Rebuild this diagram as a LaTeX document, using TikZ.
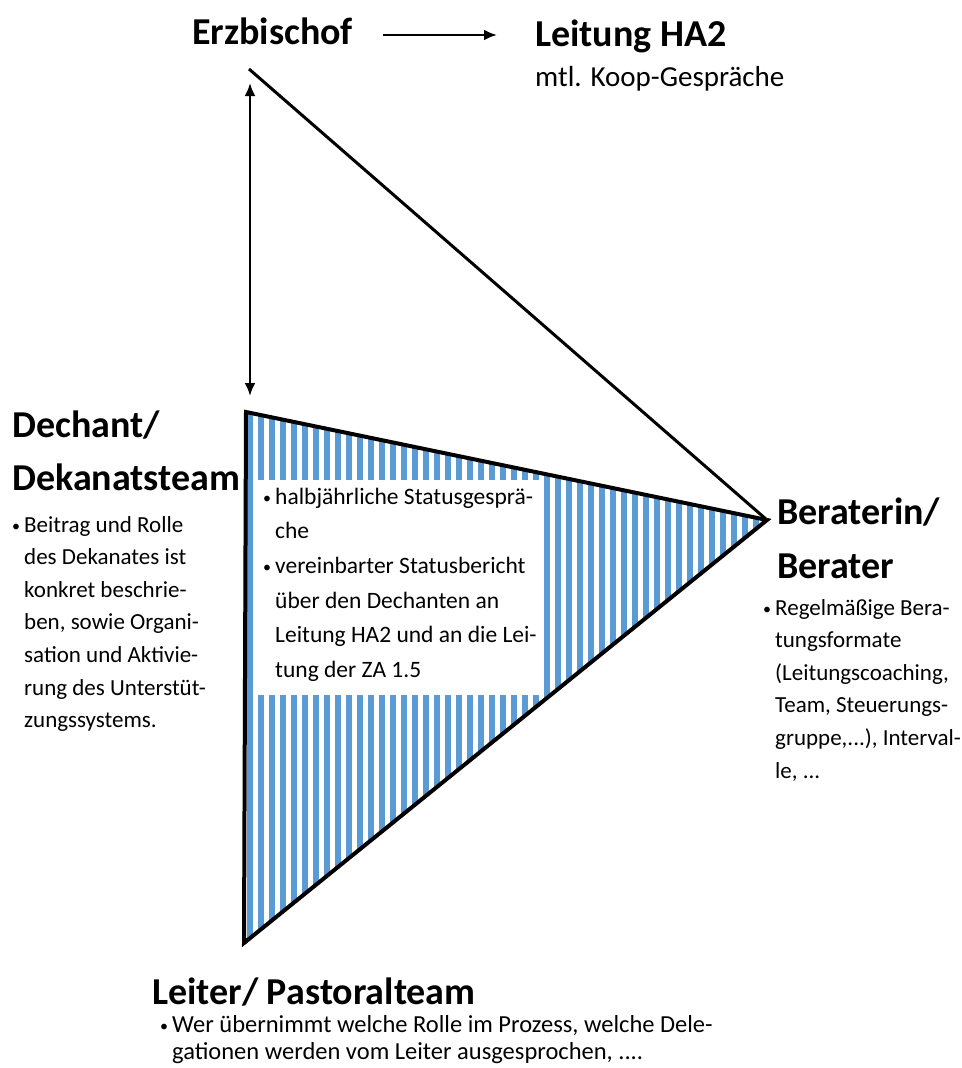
\documentclass[tikz,border=0pt]{standalone}
\usepackage{fontspec}
\setmainfont{Carlito}
\usetikzlibrary{arrows.meta}

\definecolor{streifen}{RGB}{91,155,213}

\newcommand{\pkt}{\makebox[12pt][l]{\raisebox{1pt}{\fontsize{16}{16}\selectfont•}}}
\newcommand{\ein}{\hspace*{12pt}}

\tikzset{
	titel/.style={font=\fontsize{38}{46}\selectfont\bfseries, inner sep=0pt, anchor=base west},
	liste/.style={font=\fontsize{23}{32.6}\selectfont, inner sep=0pt, align=left, anchor=base west},
	pfeil/.style={line width=2.5pt, -{Latex[length=13pt,width=11pt]}},
}

\begin{document}
\begin{tikzpicture}[x=1pt, y=-1pt]
	\useasboundingbox (0,0) rectangle (961,1068);

	\node[titel] (erzbischof) at (192,44) {Erzbischof};
	\node[titel] (leitung) at (535,46) {Leitung HA2};
	\node[liste, font=\fontsize{29}{34}\selectfont] (koop) at ([yshift=-40pt]leitung.base west) {mtl. Koop-Gespräche};

	\coordinate (spitze) at (249,69);
	\coordinate (links oben) at (246,412);
	\coordinate (rechts) at (767,520);
	\coordinate (links unten) at (244,943);
	\coordinate (pfeil oben) at (250,83);
	\coordinate (pfeil unten) at (250,396);

	% gestreiftes Dreieck
	\begin{scope}
		\clip (links oben) -- (rechts) -- (links unten) -- cycle;
		\foreach \x in {250,261,...,770}
			\draw[streifen, line width=5.5pt] (\x,400) -- (\x,960);
	\end{scope}

	\node[fill=white, anchor=north west, minimum width=283pt, minimum height=215pt, inner sep=0pt] (status feld) at (257,480) {};
	\node[liste, font=\fontsize{23.5}{34.7}\selectfont] (status) at (263,677.5) {%
		\pkt halbjährliche Statusgesprä-\\
		\ein che\\
		\pkt vereinbarter Statusbericht\\
		\ein über den Dechanten an\\
		\ein Leitung HA2 und an die Lei-\\
		\ein tung der ZA 1.5};

	\draw[line width=4pt] (links oben) -- (rechts) -- (links unten) -- cycle;
	\draw[line width=3pt] (spitze) -- (rechts);

	\draw[pfeil, shorten <=30pt, shorten >=38pt] ([yshift=9pt]erzbischof.base east) -- ([yshift=9pt]erzbischof.base east -| leitung.west);
	\draw[pfeil, {Latex[length=13pt,width=11pt]}-{Latex[length=13pt,width=11pt]}] (pfeil oben) -- (pfeil unten);

	\node[titel] (dechant) at (12,437) {Dechant/};
	\node[titel] (dekanat) at ([yshift=-53pt]dechant.base west) {Dekanatsteam};
	\node[liste] (dekanat text) at (12,727.6) {%
		\pkt Beitrag und Rolle\\
		\ein des Dekanates ist\\
		\ein konkret beschrie-\\
		\ein ben, sowie Organi-\\
		\ein sation und Aktivie-\\
		\ein rung des Unterstüt-\\
		\ein zungssystems.};

	\node[titel] (beraterin) at (777,524) {Beraterin/};
	\node[titel] (berater) at ([yshift=-54pt]beraterin.base west) {Berater};
	\node[liste] (berater text) at (763,778) {%
		\pkt Regelmäßige Bera-\\
		\ein tungsformate\\
		\ein (Leitungscoaching,\\
		\ein Team, Steuerungs-\\
		\ein gruppe,...), Interval-\\
		\ein le, ...};

	\node[titel] (leiter) at (152,1004) {Leiter/ Pastoralteam};
	\node[liste, font=\fontsize{24.5}{27}\selectfont] (leiter text) at (160,1059) {%
		\pkt Wer übernimmt welche Rolle im Prozess, welche Dele-\\
		\ein gationen werden vom Leiter ausgesprochen, ....};
\end{tikzpicture}
\end{document}
